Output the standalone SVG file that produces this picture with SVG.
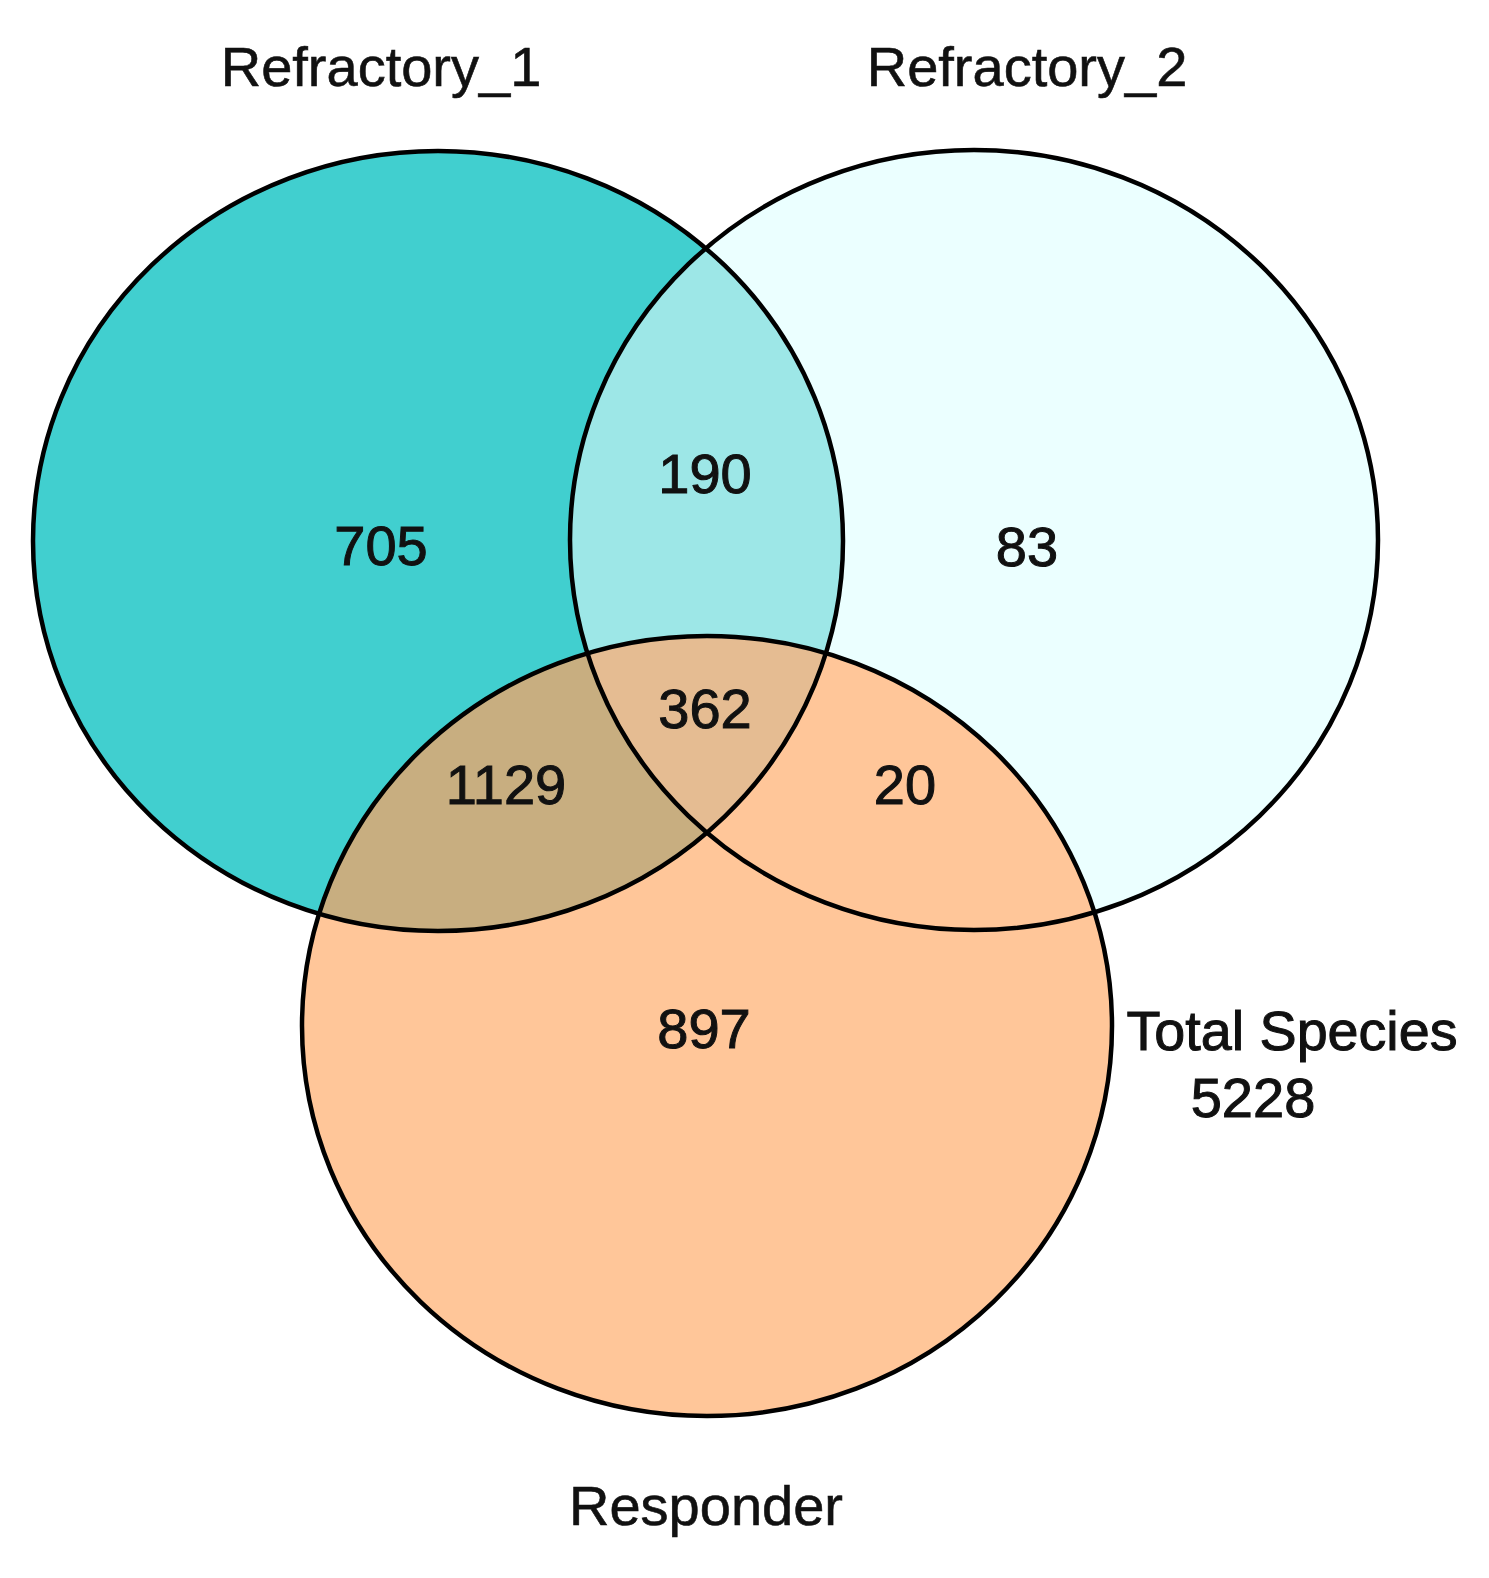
<svg xmlns="http://www.w3.org/2000/svg" width="1489" height="1578" viewBox="0 0 1489 1578">
<style>
.lbl{font-family:"Liberation Sans",Arial,sans-serif;font-size:56px;fill:#111;text-anchor:middle;stroke:#111;stroke-width:0.6}
.num{font-family:"Liberation Sans",Arial,sans-serif;font-size:56px;fill:#111;text-anchor:middle;stroke:#111;stroke-width:1}
.edge{fill:none;stroke:#000;stroke-width:4.5}
</style>
<defs>
<clipPath id="c1"><ellipse cx="438" cy="541" rx="405" ry="390"/></clipPath>
<clipPath id="c2"><ellipse cx="974" cy="540" rx="404" ry="390"/></clipPath>
</defs>
<rect width="1489" height="1578" fill="#fff"/>
<g id="fills">
<ellipse cx="438" cy="541" rx="405" ry="390" fill="#41CFCF"/>
<ellipse cx="974" cy="540" rx="404" ry="390" fill="#EBFFFF"/>
<ellipse cx="974" cy="540" rx="404" ry="390" fill="#9DE7E7" clip-path="url(#c1)"/>
<ellipse cx="707" cy="1026" rx="405" ry="390" fill="#FFC699"/>
<ellipse cx="707" cy="1026" rx="405" ry="390" fill="#C8AE80" clip-path="url(#c1)"/>
<g clip-path="url(#c1)"><ellipse cx="707" cy="1026" rx="405" ry="390" fill="#E5BC92" clip-path="url(#c2)"/></g>
</g>
<g id="refractory1">
<ellipse class="edge" cx="438" cy="541" rx="405" ry="390"/>
<text class="lbl" x="381" y="86">Refractory_1</text>
</g>
<g id="refractory2">
<ellipse class="edge" cx="974" cy="540" rx="404" ry="390"/>
<text class="lbl" x="1027" y="86">Refractory_2</text>
</g>
<g id="responder">
<ellipse class="edge" cx="707" cy="1026" rx="405" ry="390"/>
<text class="lbl" x="706" y="1525">Responder</text>
</g>
<g id="counts">
<text class="num" x="381" y="565">705</text>
<text class="num" x="705" y="493">190</text>
<text class="num" x="1027" y="566">83</text>
<text class="num" x="705" y="728">362</text>
<text class="num" x="506" y="804">1129</text>
<text class="num" x="905" y="804">20</text>
<text class="num" x="704" y="1048">897</text>
</g>
<g id="total">
<text class="num" x="1292" y="1050" textLength="331" lengthAdjust="spacingAndGlyphs" font-size="53">Total Species</text>
<text class="num" x="1253" y="1117" font-size="53">5228</text>
</g>
<g id="connectors"/>
</svg>
